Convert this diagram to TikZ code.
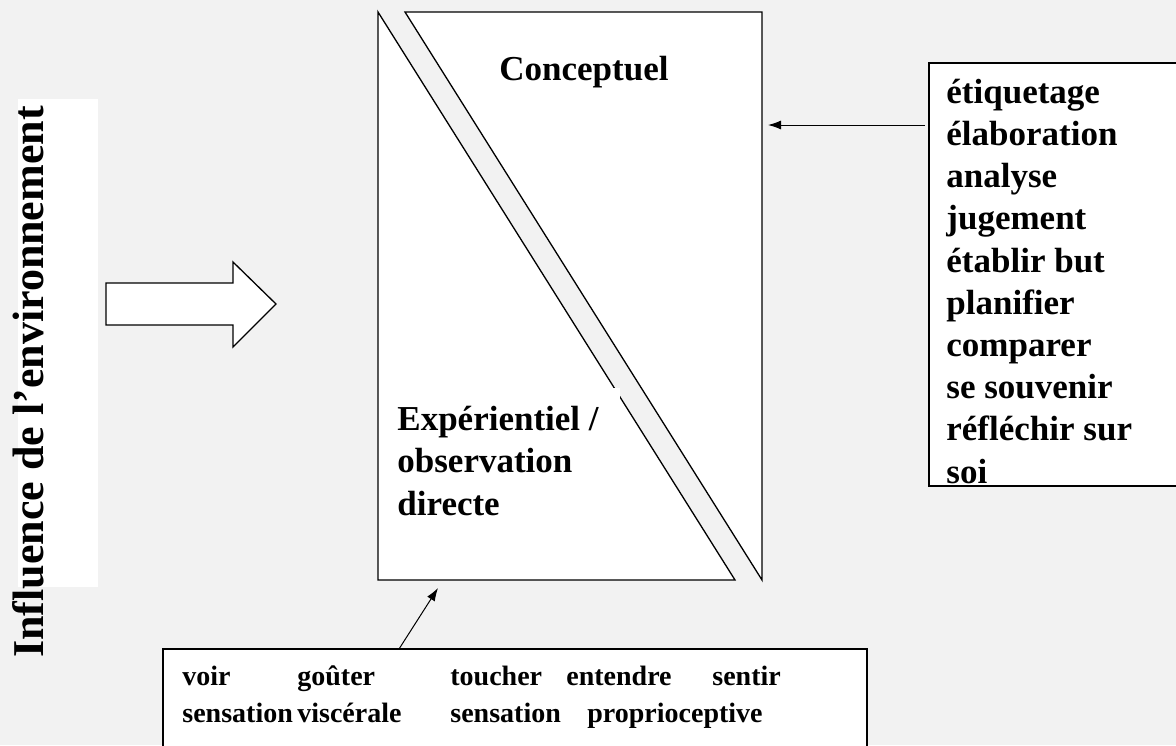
\documentclass[tikz,border=0pt]{standalone}
\usepackage{fontspec}
\setmainfont{Liberation Serif}
\usetikzlibrary{arrows.meta}
\definecolor{fond}{HTML}{F2F2F2}

\begin{document}
\begin{tikzpicture}[x=0.5pt, y=-0.5pt,
    trait/.style={draw=black, line width=0.65pt},
    fleche/.style={-{Latex[length=6.5pt,width=4.5pt]}, line width=0.5pt},
    mot/.style={font=\bfseries\fontsize{17.5}{21.1}\selectfont, inner sep=0pt, align=left},
    petit/.style={font=\bfseries\fontsize{14}{18.5}\selectfont, inner sep=0pt, align=left}]
  \fill[fond] (0,0) rectangle (1176,745);
  \useasboundingbox (0,0) rectangle (1176,745);
  % texte vertical
  \fill[white] (18,99) rectangle (98,587);
  \node[rotate=90, anchor=base, inner sep=0pt, font=\bfseries\fontsize{22}{26}\selectfont] (influence) at (43,382) {Influence de l’environnement};
  % fleche bloc
  \draw[trait, fill=white] (106,283) -- (233,283) -- (233,262) -- (276,304) -- (233,347) -- (233,325) -- (106,325) -- cycle;
  % cadre principal coupe en deux
  \draw[trait, fill=white] (405,12) -- (762,12) -- (762,580) -- cycle;
  \draw[trait, fill=white] (378,12) -- (378,580) -- (735,580) -- cycle;
  \node[mot, anchor=base] (conceptuel) at (584,80) {Conceptuel};
  \fill[white] (390,388) rectangle (620,560);
  % ancre sur la derniere ligne
  \node[mot, anchor=base west] (experientiel) at (397,515) {Expérientiel /\\observation\\directe};
  % boite de droite
  \draw[trait, fill=white] (929,63) rectangle (1190,486);
  \node[mot, anchor=base west] (liste) at (946,483) {étiquetage\\élaboration\\analyse\\jugement\\établir but\\planifier\\comparer\\se souvenir\\réfléchir sur\\soi};
  % boite du bas
  \draw[trait, fill=white] (163,649) rectangle (867,760);
  \node[petit, anchor=base west] (sens) at (182,722) {\makebox[57.5pt][l]{voir}\makebox[76.5pt][l]{goûter}\makebox[58pt][l]{toucher}\makebox[73pt][l]{entendre}sentir\\
    \makebox[57.5pt][l]{sensation}\makebox[76.5pt][l]{viscérale}\makebox[68.5pt][l]{sensation}proprioceptive};
  % fleches
  \coordinate (depart1) at (925,125);
  \coordinate (arrivee1) at (768,125);
  \coordinate (depart2) at (399,649);
  \coordinate (arrivee2) at (438,588);
  \draw[fleche] (depart1) -- (arrivee1);
  \draw[fleche] (depart2) -- (arrivee2);
\end{tikzpicture}
\end{document}
